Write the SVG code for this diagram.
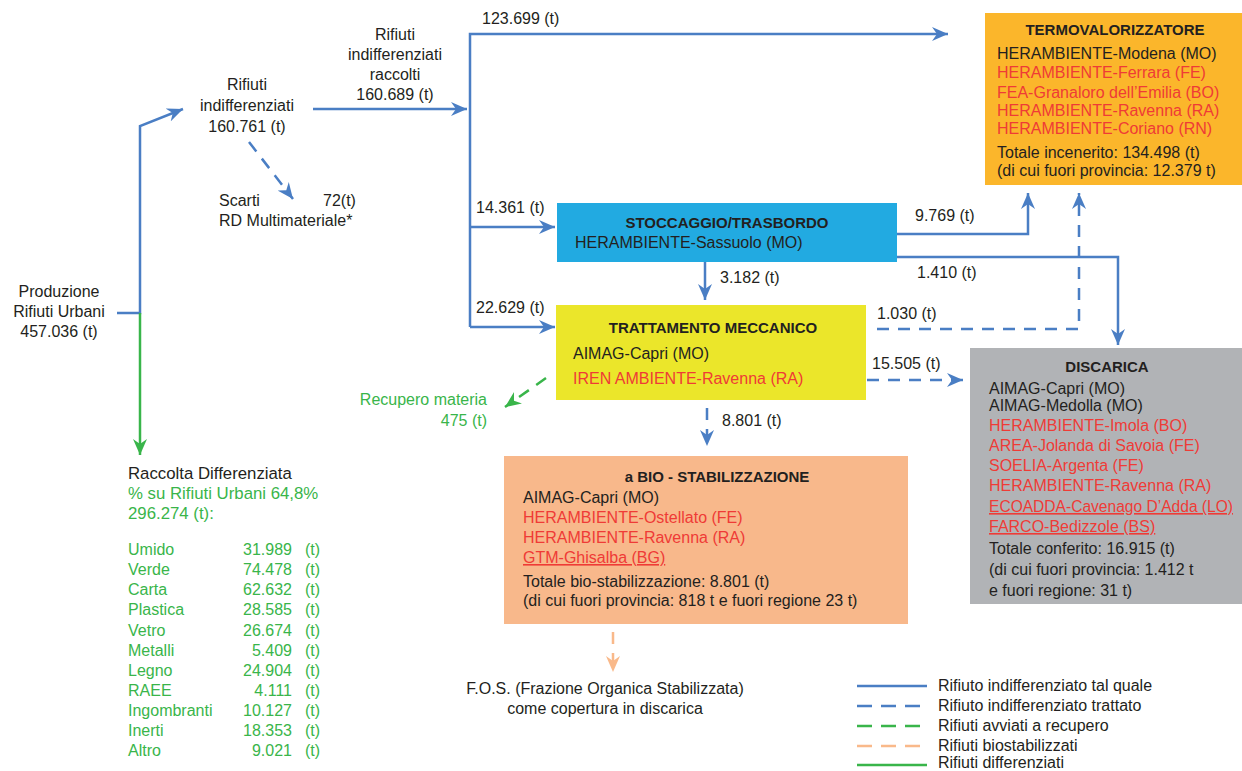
<svg xmlns="http://www.w3.org/2000/svg" width="1242" height="771" viewBox="0 0 1242 771">
<style>
text{font-family:"Liberation Sans",Arial,sans-serif;font-size:16px;fill:#231F20}
.t{font-weight:bold;font-size:15px;text-anchor:middle}
.r{fill:#EF3B36}
.g{fill:#39B54A}
.m{text-anchor:middle}
.e{text-anchor:end}
.u{text-decoration:underline}
.lg{font-size:16.8px}
.ln{fill:none;stroke-width:2.5}
.b{stroke:#4A7EC4}
.gr{stroke:#39B54A}
.o{stroke:#F9B98A}
.d{stroke-dasharray:12 9}
.ld{stroke-dasharray:15 9}
</style>
<defs>
<marker id="ab" viewBox="0 0 16 14" refX="16" refY="7" markerWidth="16" markerHeight="14" markerUnits="userSpaceOnUse" orient="auto"><path d="M0,0 L16,7 L0,14 L5,7 Z" fill="#4A7EC4"/></marker>
<marker id="ag" viewBox="0 0 16 14" refX="16" refY="7" markerWidth="16" markerHeight="14" markerUnits="userSpaceOnUse" orient="auto"><path d="M0,0 L16,7 L0,14 L5,7 Z" fill="#39B54A"/></marker>
<marker id="ao" viewBox="0 0 16 14" refX="16" refY="7" markerWidth="16" markerHeight="14" markerUnits="userSpaceOnUse" orient="auto"><path d="M0,0 L16,7 L0,14 L5,7 Z" fill="#F9B98A"/></marker>
</defs>
<rect width="1242" height="771" fill="#fff"/>

<g id="connectors">
<path class="ln b" d="M117,313 H140 V126 L183,109" marker-end="url(#ab)"/>
<path class="ln gr" d="M140,313 V455" marker-end="url(#ag)"/>
<path class="ln b" d="M313,109 H467" marker-end="url(#ab)"/>
<path class="ln b" d="M470,327 V34 H948" marker-end="url(#ab)"/>
<path class="ln b" d="M470,227 H555" marker-end="url(#ab)"/>
<path class="ln b" d="M470,327 H555" marker-end="url(#ab)"/>
<path class="ln b d" d="M249,142 L293,199" marker-end="url(#ab)"/>
<path class="ln b" d="M897,234 H1028 V193" marker-end="url(#ab)"/>
<path class="ln b" d="M897,257 H1118 V345" marker-end="url(#ab)"/>
<path class="ln b" d="M705,262 V300" marker-end="url(#ab)"/>
<path class="ln b d" d="M877,329 H1079 V193" marker-end="url(#ab)"/>
<path class="ln b d" d="M867,380 H963" marker-end="url(#ab)"/>
<path class="ln gr d" d="M546,378 L505,407" marker-end="url(#ag)"/>
<path class="ln b d" d="M707,408 V446" marker-end="url(#ab)"/>
<path class="ln o d" d="M613,632 V672" marker-end="url(#ao)"/>
</g>

<g id="flow-labels">
<text x="482" y="24">123.699 (t)</text>
<text x="476" y="213">14.361 (t)</text>
<text x="476" y="313">22.629 (t)</text>
<text x="720" y="283">3.182 (t)</text>
<text x="915" y="221">9.769 (t)</text>
<text x="917" y="278">1.410 (t)</text>
<text x="877" y="319">1.030 (t)</text>
<text x="872" y="369">15.505 (t)</text>
<text x="722" y="426">8.801 (t)</text>
</g>

<g id="produzione">
<text class="m" x="59" y="297">Produzione</text>
<text class="m" x="59" y="317">Rifiuti Urbani</text>
<text class="m" x="59" y="337">457.036 (t)</text>
</g>

<g id="rifiuti-indifferenziati">
<text class="m" x="247" y="90">Rifiuti</text>
<text class="m" x="247" y="111">indifferenziati</text>
<text class="m" x="247" y="132">160.761 (t)</text>
</g>

<g id="rifiuti-raccolti">
<text class="m" x="395" y="40">Rifiuti</text>
<text class="m" x="395" y="60">indifferenziati</text>
<text class="m" x="395" y="80">raccolti</text>
<text class="m" x="395" y="100">160.689 (t)</text>
</g>

<g id="scarti">
<text x="219" y="206">Scarti</text>
<text x="323" y="206">72(t)</text>
<text x="219" y="226">RD Multimateriale*</text>
</g>

<g id="termovalorizzatore">
<rect x="985" y="13" width="257" height="172" fill="#FBB62B"/>
<text class="t" x="1115" y="35">TERMOVALORIZZATORE</text>
<text x="997" y="59">HERAMBIENTE-Modena (MO)</text>
<text class="r" x="997" y="78">HERAMBIENTE-Ferrara (FE)</text>
<text class="r" x="997" y="98">FEA-Granaloro dell’Emilia (BO)</text>
<text class="r" x="997" y="116">HERAMBIENTE-Ravenna (RA)</text>
<text class="r" x="997" y="134">HERAMBIENTE-Coriano (RN)</text>
<text x="997" y="158">Totale incenerito: 134.498 (t)</text>
<text x="997" y="176">(di cui fuori provincia: 12.379 t)</text>
</g>

<g id="stoccaggio">
<rect x="557" y="203" width="340" height="59" fill="#22AAE1"/>
<text class="t" x="727" y="228">STOCCAGGIO/TRASBORDO</text>
<text x="575" y="248">HERAMBIENTE-Sassuolo (MO)</text>
</g>

<g id="trattamento">
<rect x="556" y="305" width="310" height="95" fill="#EBE62A"/>
<text class="t" x="713" y="333">TRATTAMENTO MECCANICO</text>
<text x="573" y="359">AIMAG-Capri (MO)</text>
<text class="r" x="573" y="384">IREN AMBIENTE-Ravenna (RA)</text>
</g>

<g id="discarica">
<rect x="970" y="348" width="272" height="256" fill="#B1B3B6"/>
<text class="t" x="1107" y="372">DISCARICA</text>
<text x="989" y="394">AIMAG-Capri (MO)</text>
<text x="989" y="411">AIMAG-Medolla (MO)</text>
<text class="r" x="989" y="431">HERAMBIENTE-Imola (BO)</text>
<text class="r" x="989" y="451">AREA-Jolanda di Savoia (FE)</text>
<text class="r" x="989" y="471">SOELIA-Argenta (FE)</text>
<text class="r" x="989" y="491">HERAMBIENTE-Ravenna (RA)</text>
<text class="r u" x="989" y="512" textLength="244" lengthAdjust="spacingAndGlyphs">ECOADDA-Cavenago D’Adda (LO)</text>
<text class="r u" x="989" y="532">FARCO-Bedizzole (BS)</text>
<text x="989" y="554">Totale conferito: 16.915 (t)</text>
<text x="989" y="575">(di cui fuori provincia: 1.412 t</text>
<text x="989" y="596">e fuori regione: 31 t)</text>
</g>

<g id="biostabilizzazione">
<rect x="504" y="456" width="404" height="168" fill="#F8B88B"/>
<text class="t" x="717" y="482">a BIO - STABILIZZAZIONE</text>
<text x="523" y="503">AIMAG-Capri (MO)</text>
<text class="r" x="523" y="523">HERAMBIENTE-Ostellato (FE)</text>
<text class="r" x="523" y="543">HERAMBIENTE-Ravenna (RA)</text>
<text class="r u" x="523" y="563">GTM-Ghisalba (BG)</text>
<text x="523" y="587">Totale bio-stabilizzazione: 8.801 (t)</text>
<text x="523" y="606">(di cui fuori provincia: 818 t e fuori regione 23 t)</text>
</g>

<g id="recupero-materia">
<text class="g e" x="487" y="405">Recupero materia</text>
<text class="g e" x="487" y="426">475 (t)</text>
</g>

<g id="fos">
<text class="m" x="605" y="694">F.O.S. (Frazione Organica Stabilizzata)</text>
<text class="m" x="605" y="714">come copertura in discarica</text>
</g>

<g id="raccolta-differenziata">
<text class="lg" x="128" y="479">Raccolta Differenziata</text>
<text class="g lg" x="128" y="499">% su Rifiuti Urbani 64,8%</text>
<text class="g lg" x="128" y="519">296.274 (t):</text>
<text class="g" x="128" y="555">Umido</text><text class="g e" x="292" y="555">31.989</text><text class="g" x="305" y="555">(t)</text>
<text class="g" x="128" y="575">Verde</text><text class="g e" x="292" y="575">74.478</text><text class="g" x="305" y="575">(t)</text>
<text class="g" x="128" y="595">Carta</text><text class="g e" x="292" y="595">62.632</text><text class="g" x="305" y="595">(t)</text>
<text class="g" x="128" y="615">Plastica</text><text class="g e" x="292" y="615">28.585</text><text class="g" x="305" y="615">(t)</text>
<text class="g" x="128" y="636">Vetro</text><text class="g e" x="292" y="636">26.674</text><text class="g" x="305" y="636">(t)</text>
<text class="g" x="128" y="656">Metalli</text><text class="g e" x="292" y="656">5.409</text><text class="g" x="305" y="656">(t)</text>
<text class="g" x="128" y="676">Legno</text><text class="g e" x="292" y="676">24.904</text><text class="g" x="305" y="676">(t)</text>
<text class="g" x="128" y="696">RAEE</text><text class="g e" x="292" y="696">4.111</text><text class="g" x="305" y="696">(t)</text>
<text class="g" x="128" y="716">Ingombranti</text><text class="g e" x="292" y="716">10.127</text><text class="g" x="305" y="716">(t)</text>
<text class="g" x="128" y="736">Inerti</text><text class="g e" x="292" y="736">18.353</text><text class="g" x="305" y="736">(t)</text>
<text class="g" x="128" y="756">Altro</text><text class="g e" x="292" y="756">9.021</text><text class="g" x="305" y="756">(t)</text>
</g>

<g id="legend">
<path class="ln b" d="M857,686 H927"/>
<path class="ln b ld" d="M857,706 H921"/>
<path class="ln gr ld" d="M857,726 H921"/>
<path class="ln o ld" d="M857,746 H921"/>
<path class="ln gr" d="M857,765 H927"/>
<text x="938" y="691">Rifiuto indifferenziato tal quale</text>
<text x="938" y="711">Rifiuto indifferenziato trattato</text>
<text x="938" y="731">Rifiuti avviati a recupero</text>
<text x="938" y="751">Rifiuti biostabilizzati</text>
<text x="938" y="768">Rifiuti differenziati</text>
</g>
</svg>
